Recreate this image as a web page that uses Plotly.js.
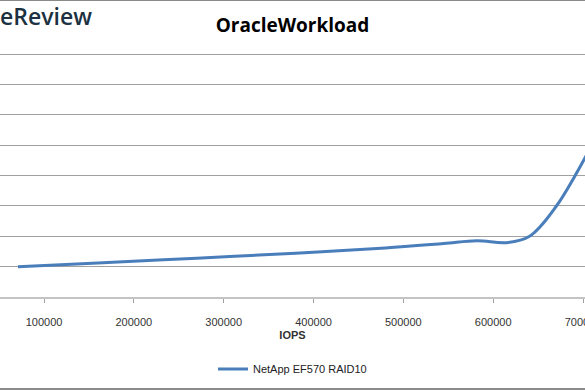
<!DOCTYPE html>
<html>
<head>
<meta charset="utf-8">
<script src="https://cdn.plot.ly/plotly-3.0.1.min.js"></script>
<style>html,body{margin:0;padding:0;background:#fff;}#chart{width:585px;height:390px;}</style>
</head>
<body>
<div id="chart"></div>
<script>
// Data (IOPS vs latency, y labels cropped in the original)
const seriesName = "NetApp EF570 RAID10";
const iops = [71000, 160000, 270000, 380000, 480000, 545000, 582000, 615000, 640000, 670000, 702000, 715000];
const latency = [1.00, 1.12, 1.28, 1.44, 1.61, 1.76, 1.85, 1.79, 1.99, 2.98, 4.57, 5.3];
const xTicks = [100000, 200000, 300000, 400000, 500000, 600000, 700000];
const xTickText = ["100000", "200000", "300000", "400000", "500000", "600000", "700000"];

const trace = {
  x: iops, y: latency, type: "scatter", mode: "lines", name: seriesName,
  line: {color: "#4a7ebb", width: 3, shape: "spline", smoothing: 1}
};

const plotTop = 51, plotBottom = 297, plotH = plotBottom - plotTop;

const layout = {
  width: 585, height: 390,
  margin: {l: 0, r: 0, t: plotTop, b: 390 - plotBottom},
  paper_bgcolor: "#ffffff", plot_bgcolor: "#ffffff",
  font: {family: "Liberation Sans, Arial, sans-serif", color: "#404040", size: 11},
  title: {text: "<b>OracleWorkload</b>", x: 0.5, xanchor: "center", y: 0.935, yanchor: "middle",
          font: {family: "Open Sans, Liberation Sans, sans-serif", size: 19, color: "#000000"}},
  xaxis: {
    range: [51000, 702200], tickvals: xTicks, ticktext: xTickText,
    showgrid: false, zeroline: false, showline: true, linecolor: "#c4c4c4", linewidth: 1.5,
    ticks: "outside", ticklen: 4, tickcolor: "#a0a0a0",
    ticklabeloverflow: "allow", ticklabelstandoff: 10,
    tickfont: {family: "Liberation Sans, Arial, sans-serif", size: 11, color: "#333333"},
    title: {text: "<b>IOPS</b>", standoff: 4, font: {family: "Liberation Sans, Arial, sans-serif", size: 11, color: "#333333"}}
  },
  yaxis: {
    range: [0, 8.1], dtick: 1, showticklabels: false, showgrid: true, gridcolor: "#a0a0a0", gridwidth: 1,
    zeroline: false, showline: false, ticks: ""
  },
  showlegend: true,
  legend: {orientation: "h", x: 0.5, xanchor: "center", y: (plotBottom - 369) / plotH, yanchor: "middle",
           font: {family: "Liberation Sans, Arial, sans-serif", size: 11, color: "#222222"}},
  shapes: [
    {type: "line", xref: "paper", yref: "paper", x0: 0, x1: 1, y0: plotBottom / plotH, y1: plotBottom / plotH, line: {color: "#8a8a8a", width: 2}},
    {type: "line", xref: "paper", yref: "paper", x0: 0, x1: 1, y0: (plotBottom - 389) / plotH, y1: (plotBottom - 389) / plotH, line: {color: "#8a8a8a", width: 2}}
  ],
  annotations: [
    {text: "eReview", xref: "paper", yref: "paper", x: -0.003, y: (plotBottom - 16) / plotH, xanchor: "left", yanchor: "middle",
     showarrow: false, font: {family: "Open Sans, sans-serif", size: 23, weight: 600, color: "#1c3141"}}
  ]
};

Plotly.newPlot("chart", [trace], layout, {displayModeBar: false, staticPlot: true});
</script>
</body>
</html>
